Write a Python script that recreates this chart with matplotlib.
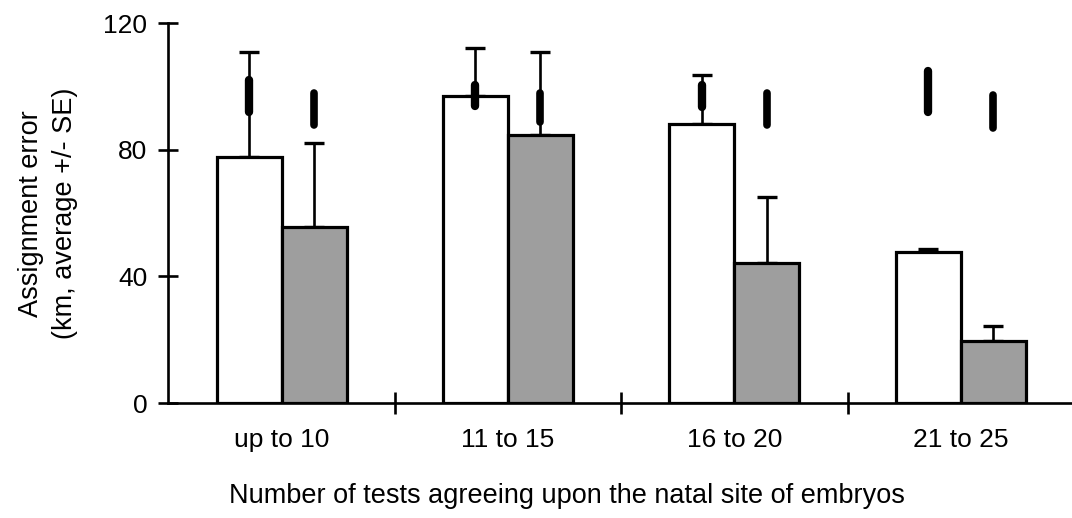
import matplotlib.pyplot as plt
import numpy as np

plt.rcParams["font.family"] = ["Liberation Sans", "DejaVu Sans"]

groups = ["up to 10", "11 to 15", "16 to 20", "21 to 25"]

# observed assignment error (km) and upper SE for the two treatments
white_mean = [77.8, 96.9, 88.3, 47.8]
white_se = [33.0, 15.4, 15.3, 1.0]
gray_mean = [55.7, 84.6, 44.1, 19.7]
gray_se = [26.6, 26.3, 21.0, 4.6]

# expected error range under random assignment (low, high)
white_rand_lo = [92.0, 94.0, 93.4, 92.0]
white_rand_hi = [102.0, 100.4, 100.4, 105.0]
gray_rand_lo = [88.0, 88.8, 87.8, 87.0]
gray_rand_hi = [98.0, 98.0, 98.0, 97.4]

x = np.arange(len(groups))
w = 0.287

fig = plt.figure(figsize=(10.72, 5.18), dpi=100)
ax = fig.add_axes([0.157, 0.222, 0.845, 0.733])

xw = x - w / 2
xg = x + w / 2

ax.errorbar(xw, white_mean, yerr=[np.zeros(4), white_se], fmt="none",
            ecolor="black", elinewidth=1.9, capsize=7, capthick=2.4, zorder=1)
ax.errorbar(xg, gray_mean, yerr=[np.zeros(4), gray_se], fmt="none",
            ecolor="black", elinewidth=1.9, capsize=7, capthick=2.4, zorder=1)

ax.bar(xw, white_mean, width=w, color="white", edgecolor="black",
       linewidth=2.3, zorder=2)
ax.bar(xg, gray_mean, width=w, color="#9e9e9e", edgecolor="black",
       linewidth=2.3, zorder=2)

ax.vlines(xw, white_rand_lo, white_rand_hi, colors="black", linewidth=6.0,
          capstyle="round", zorder=3)
ax.vlines(xg, gray_rand_lo, gray_rand_hi, colors="black", linewidth=5.5,
          capstyle="round", zorder=3)

ax.set_xlim(-0.5, 3.5)
ax.set_ylim(0, 120)
ax.set_yticks([0, 40, 80, 120])
ax.set_xticks(x)
ax.set_xticklabels(groups)
ax.set_xticks([0.5, 1.5, 2.5], minor=True)

ax.spines["top"].set_visible(False)
ax.spines["right"].set_visible(False)
ax.spines["left"].set_linewidth(1.9)
ax.spines["bottom"].set_linewidth(1.9)

ax.tick_params(axis="y", direction="inout", length=14, width=1.9,
               labelsize=19, pad=8)
ax.tick_params(axis="x", which="major", length=0, labelsize=19, pad=18)
ax.tick_params(axis="x", which="minor", direction="inout", length=16,
               width=1.9)

ax.set_xlabel("Number of tests agreeing upon the natal site of embryos",
              fontsize=19.5, labelpad=22, x=0.44)
ax.set_ylabel("Assignment error\n(km, average +/- SE)", fontsize=19.5,
              labelpad=18, linespacing=1.4)

fig.savefig("out.png", dpi=100)
